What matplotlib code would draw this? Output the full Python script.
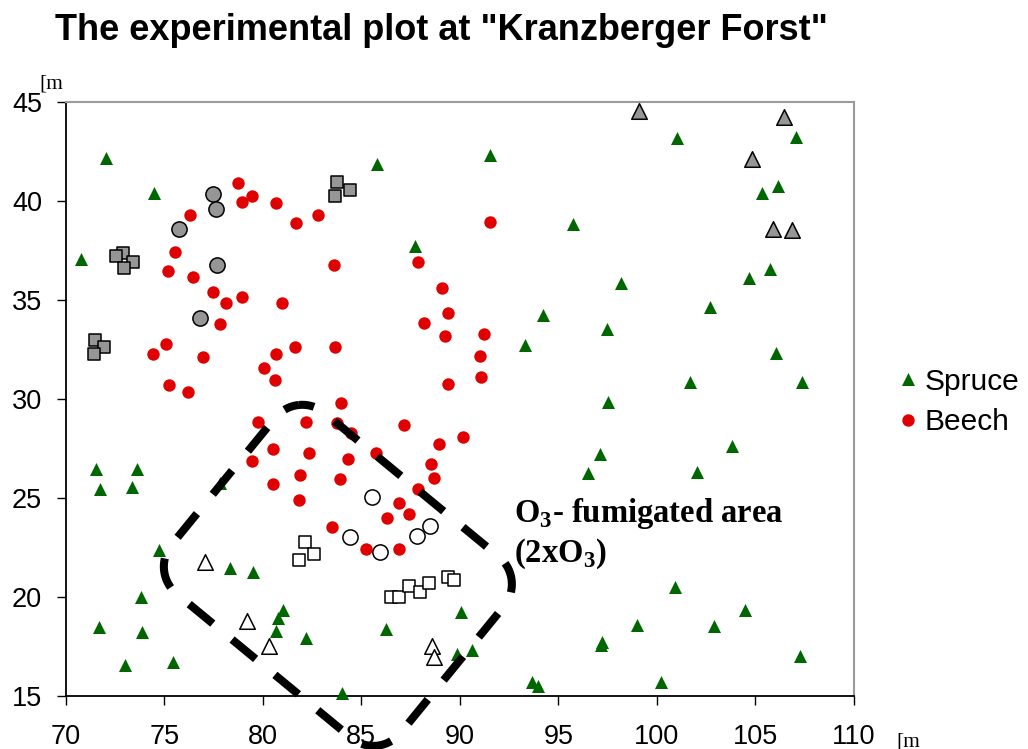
import numpy as np
import matplotlib
matplotlib.use("Agg")
import matplotlib.pyplot as plt

plt.rcParams['font.family'] = ['Liberation Sans', 'DejaVu Sans']
plt.rcParams['lines.scale_dashes'] = False
plt.rcParams['mathtext.fontset'] = 'custom'
plt.rcParams['mathtext.rm'] = 'Liberation Serif'
plt.rcParams['mathtext.bf'] = 'Liberation Serif:bold'

# ---- tree positions [m] ----
spruce_x = [72.06, 74.50, 70.79, 71.54, 73.60, 71.74, 73.38, 74.75, 73.82, 71.69,
            73.89, 73.01, 75.46, 77.83, 78.34, 79.52, 81.04, 80.76, 80.67, 82.18,
            84.00, 86.24, 90.06, 89.84, 90.60, 85.78, 91.54, 87.71, 94.20, 93.32,
            95.75, 101.00, 107.05, 106.15, 105.34, 105.72, 104.68, 98.19, 102.70, 97.46,
            106.02, 101.67, 107.36, 97.53, 103.82, 97.09, 96.48, 102.03, 100.93, 104.46,
            99.00, 102.91, 97.19, 97.15, 107.27, 100.19, 93.64, 93.98]
spruce_y = [42.14, 40.41, 37.06, 26.44, 26.44, 25.43, 25.57, 22.37, 19.99, 18.50,
            18.22, 16.59, 16.73, 25.75, 21.46, 21.28, 19.34, 18.92, 18.30, 17.94,
            15.14, 18.37, 19.26, 17.12, 17.32, 41.86, 42.31, 37.72, 34.22, 32.70,
            38.81, 43.17, 43.23, 40.76, 40.41, 36.54, 36.12, 35.83, 34.65, 33.51,
            32.33, 30.87, 30.87, 29.86, 27.62, 27.22, 26.24, 26.31, 20.49, 19.34,
            18.60, 18.53, 17.72, 17.55, 17.02, 15.71, 15.72, 15.50]

beech_x = [78.74, 79.47, 78.96, 80.65, 76.29, 81.68, 82.79, 75.56, 75.19, 76.44,
           83.60, 77.47, 78.15, 78.95, 80.96, 77.85, 75.10, 74.44, 76.97, 80.67,
           81.62, 83.68, 80.08, 91.51, 87.89, 89.08, 89.38, 88.19, 89.23, 91.21,
           91.00, 91.07, 89.38, 75.26, 76.22, 80.63, 83.98, 79.77, 82.21, 83.75,
           84.46, 87.15, 90.17, 88.92, 80.50, 82.36, 79.47, 84.34, 85.74, 88.55,
           81.90, 83.90, 88.70, 80.50, 81.84, 87.89, 86.93, 87.43, 86.32, 83.53,
           85.24, 86.93]
beech_y = [40.90, 40.24, 39.95, 39.87, 39.28, 38.86, 39.28, 37.40, 36.45, 36.17,
           36.76, 35.38, 34.85, 35.16, 34.85, 33.78, 32.75, 32.25, 32.11, 32.25,
           32.62, 32.62, 31.57, 38.93, 36.89, 35.60, 34.35, 33.84, 33.19, 33.26,
           32.16, 31.09, 30.74, 30.71, 30.36, 30.95, 29.78, 28.83, 28.83, 28.77,
           28.30, 28.70, 28.09, 27.74, 27.45, 27.25, 26.88, 26.95, 27.25, 26.71,
           26.14, 25.94, 25.99, 25.70, 24.91, 25.43, 24.76, 24.17, 23.99, 23.53,
           22.44, 22.44]

# sampled trees, control area (grey) and fumigated area (white)
grey_sq_x = [72.91, 72.54, 73.43, 72.97, 71.50, 71.93, 71.42, 83.76, 84.41, 83.68]
grey_sq_y = [37.35, 37.20, 36.89, 36.59, 32.97, 32.60, 32.25, 40.96, 40.53, 40.24]
grey_ci_x = [77.49, 77.63, 75.76, 77.69, 76.81]
grey_ci_y = [40.33, 39.58, 38.57, 36.76, 34.07]
grey_tr_x = [99.09, 106.46, 104.83, 105.87, 106.83]
grey_tr_y = [44.53, 44.21, 42.09, 38.59, 38.52]

white_ci_x = [85.52, 84.42, 85.96, 87.82, 88.48]
white_ci_y = [25.05, 23.03, 22.28, 23.09, 23.60]
white_sq_x = [82.14, 82.58, 81.84, 86.50, 86.93, 87.43, 87.96, 88.42, 89.41, 89.72]
white_sq_y = [22.79, 22.15, 21.85, 20.01, 20.01, 20.57, 20.23, 20.69, 20.99, 20.84]
white_tr_x = [77.08, 79.21, 80.33, 88.60, 88.69]
white_tr_y = [21.77, 18.80, 17.54, 17.54, 16.98]

x_ticks = [70, 75, 80, 85, 90, 95, 100, 105, 110]
y_ticks = [15, 20, 25, 30, 35, 40, 45]

GREEN = '#006600'
RED = '#e00000'
GREY = '#969696'

W, H = 1028, 749
fig = plt.figure(figsize=(W / 100, H / 100), dpi=100)
ax = fig.add_axes([65.7 / W, 53 / H, (854 - 65.7) / W, (696 - 101.7) / H])
ax.set_xlim(70, 110)
ax.set_ylim(15, 45)
ax.set_xticks(x_ticks)
ax.set_yticks(y_ticks)

for s in ('left', 'bottom'):
    ax.spines[s].set_color('black')
    ax.spines[s].set_linewidth(1.3)
for s in ('top', 'right'):
    ax.spines[s].set_color('#9a9a9a')
    ax.spines[s].set_linewidth(1.5)
ax.tick_params(axis='x', direction='out', length=6.5, width=1.0, pad=14, labelsize=19.5)
ax.tick_params(axis='y', direction='out', length=6.5, width=1.0, pad=10.5, labelsize=19.5)

h_spruce = ax.scatter(spruce_x, spruce_y, marker='^', s=88, color=GREEN,
                      linewidths=0, zorder=3, clip_on=False, label='Spruce')
h_beech = ax.scatter(beech_x, beech_y, marker='o', s=80, color=RED,
                     linewidths=0, zorder=3, clip_on=False, label='Beech')

edge = dict(edgecolors='black', linewidths=1.1, zorder=4, clip_on=False)
ax.scatter(grey_sq_x, grey_sq_y, marker='s', s=74, facecolors=GREY, **edge)
ax.scatter(grey_ci_x, grey_ci_y, marker='o', s=120, facecolors=GREY, **edge)
ax.scatter(grey_tr_x, grey_tr_y, marker='^', s=125, facecolors=GREY, **edge)
ax.scatter(white_sq_x, white_sq_y, marker='s', s=74, facecolors='white', **edge)
ax.scatter(white_ci_x, white_ci_y, marker='o', s=120, facecolors='white', **edge)
ax.scatter(white_tr_x, white_tr_y, marker='^', s=125, facecolors='white', **edge)

# dashed outline of the fumigated area: rotated rounded rectangle
cx, cy = 83.81, 21.09
half_a, half_b, rad = 15.01 / 2, 11.82 / 2, 1.77
theta = np.deg2rad(-39.4)
corners = [(-1, 1, 135, 180), (-1, -1, 180, 270), (1, -1, 270, 360),
           (1, 1, 0, 90), (-1, 1, 90, 135)]
pts = []
for sx, sy, a0, a1 in corners:
    ang = np.deg2rad(np.linspace(a0, a1, 40))
    px = sx * (half_a - rad) + rad * np.cos(ang)
    py = sy * (half_b - rad) + rad * np.sin(ang)
    pts.append(np.column_stack([px, py]))
loc = np.vstack(pts)
rot = np.array([[np.cos(theta), -np.sin(theta)], [np.sin(theta), np.cos(theta)]])
xy = loc @ rot.T
ax.plot(xy[:, 0] + cx, xy[:, 1] + cy, color='black', lw=5.8,
        linestyle=(11, (22, 18)), solid_capstyle='butt', dash_capstyle='butt',
        clip_on=False, zorder=5)

txt = dict(fontsize=23.5, fontweight='bold', family=['Liberation Serif', 'DejaVu Serif'],
           va='baseline', ha='left', zorder=6)
ax.text(92.76, 23.80, r'O$_\mathbf{3}$- fumigated area', **txt)
ax.text(92.76, 21.78, r'(2xO$_\mathbf{3}$)', **txt)

fig.text(55 / W, 1 - 40 / H, 'The experimental plot at "Kranzberger Forst"',
         fontsize=26, fontweight='bold', va='baseline', ha='left')

unit = dict(fontsize=15.5, family=['Liberation Serif', 'DejaVu Serif'], va='baseline', ha='left')
fig.text(39 / W, 1 - 88 / H, '[m', **unit)
fig.text(896 / W, 1 - 746 / H, '[m', **unit)

fig.legend(handles=[h_spruce, h_beech], loc='center left',
           bbox_to_anchor=(893 / W, 1 - 402 / H), frameon=False, fontsize=21.5,
           scatterpoints=1, scatteryoffsets=[0.5], handlelength=1.0,
           handletextpad=0.05, borderpad=0, borderaxespad=0, labelspacing=0.43)

fig.savefig('out.png', dpi=100)
